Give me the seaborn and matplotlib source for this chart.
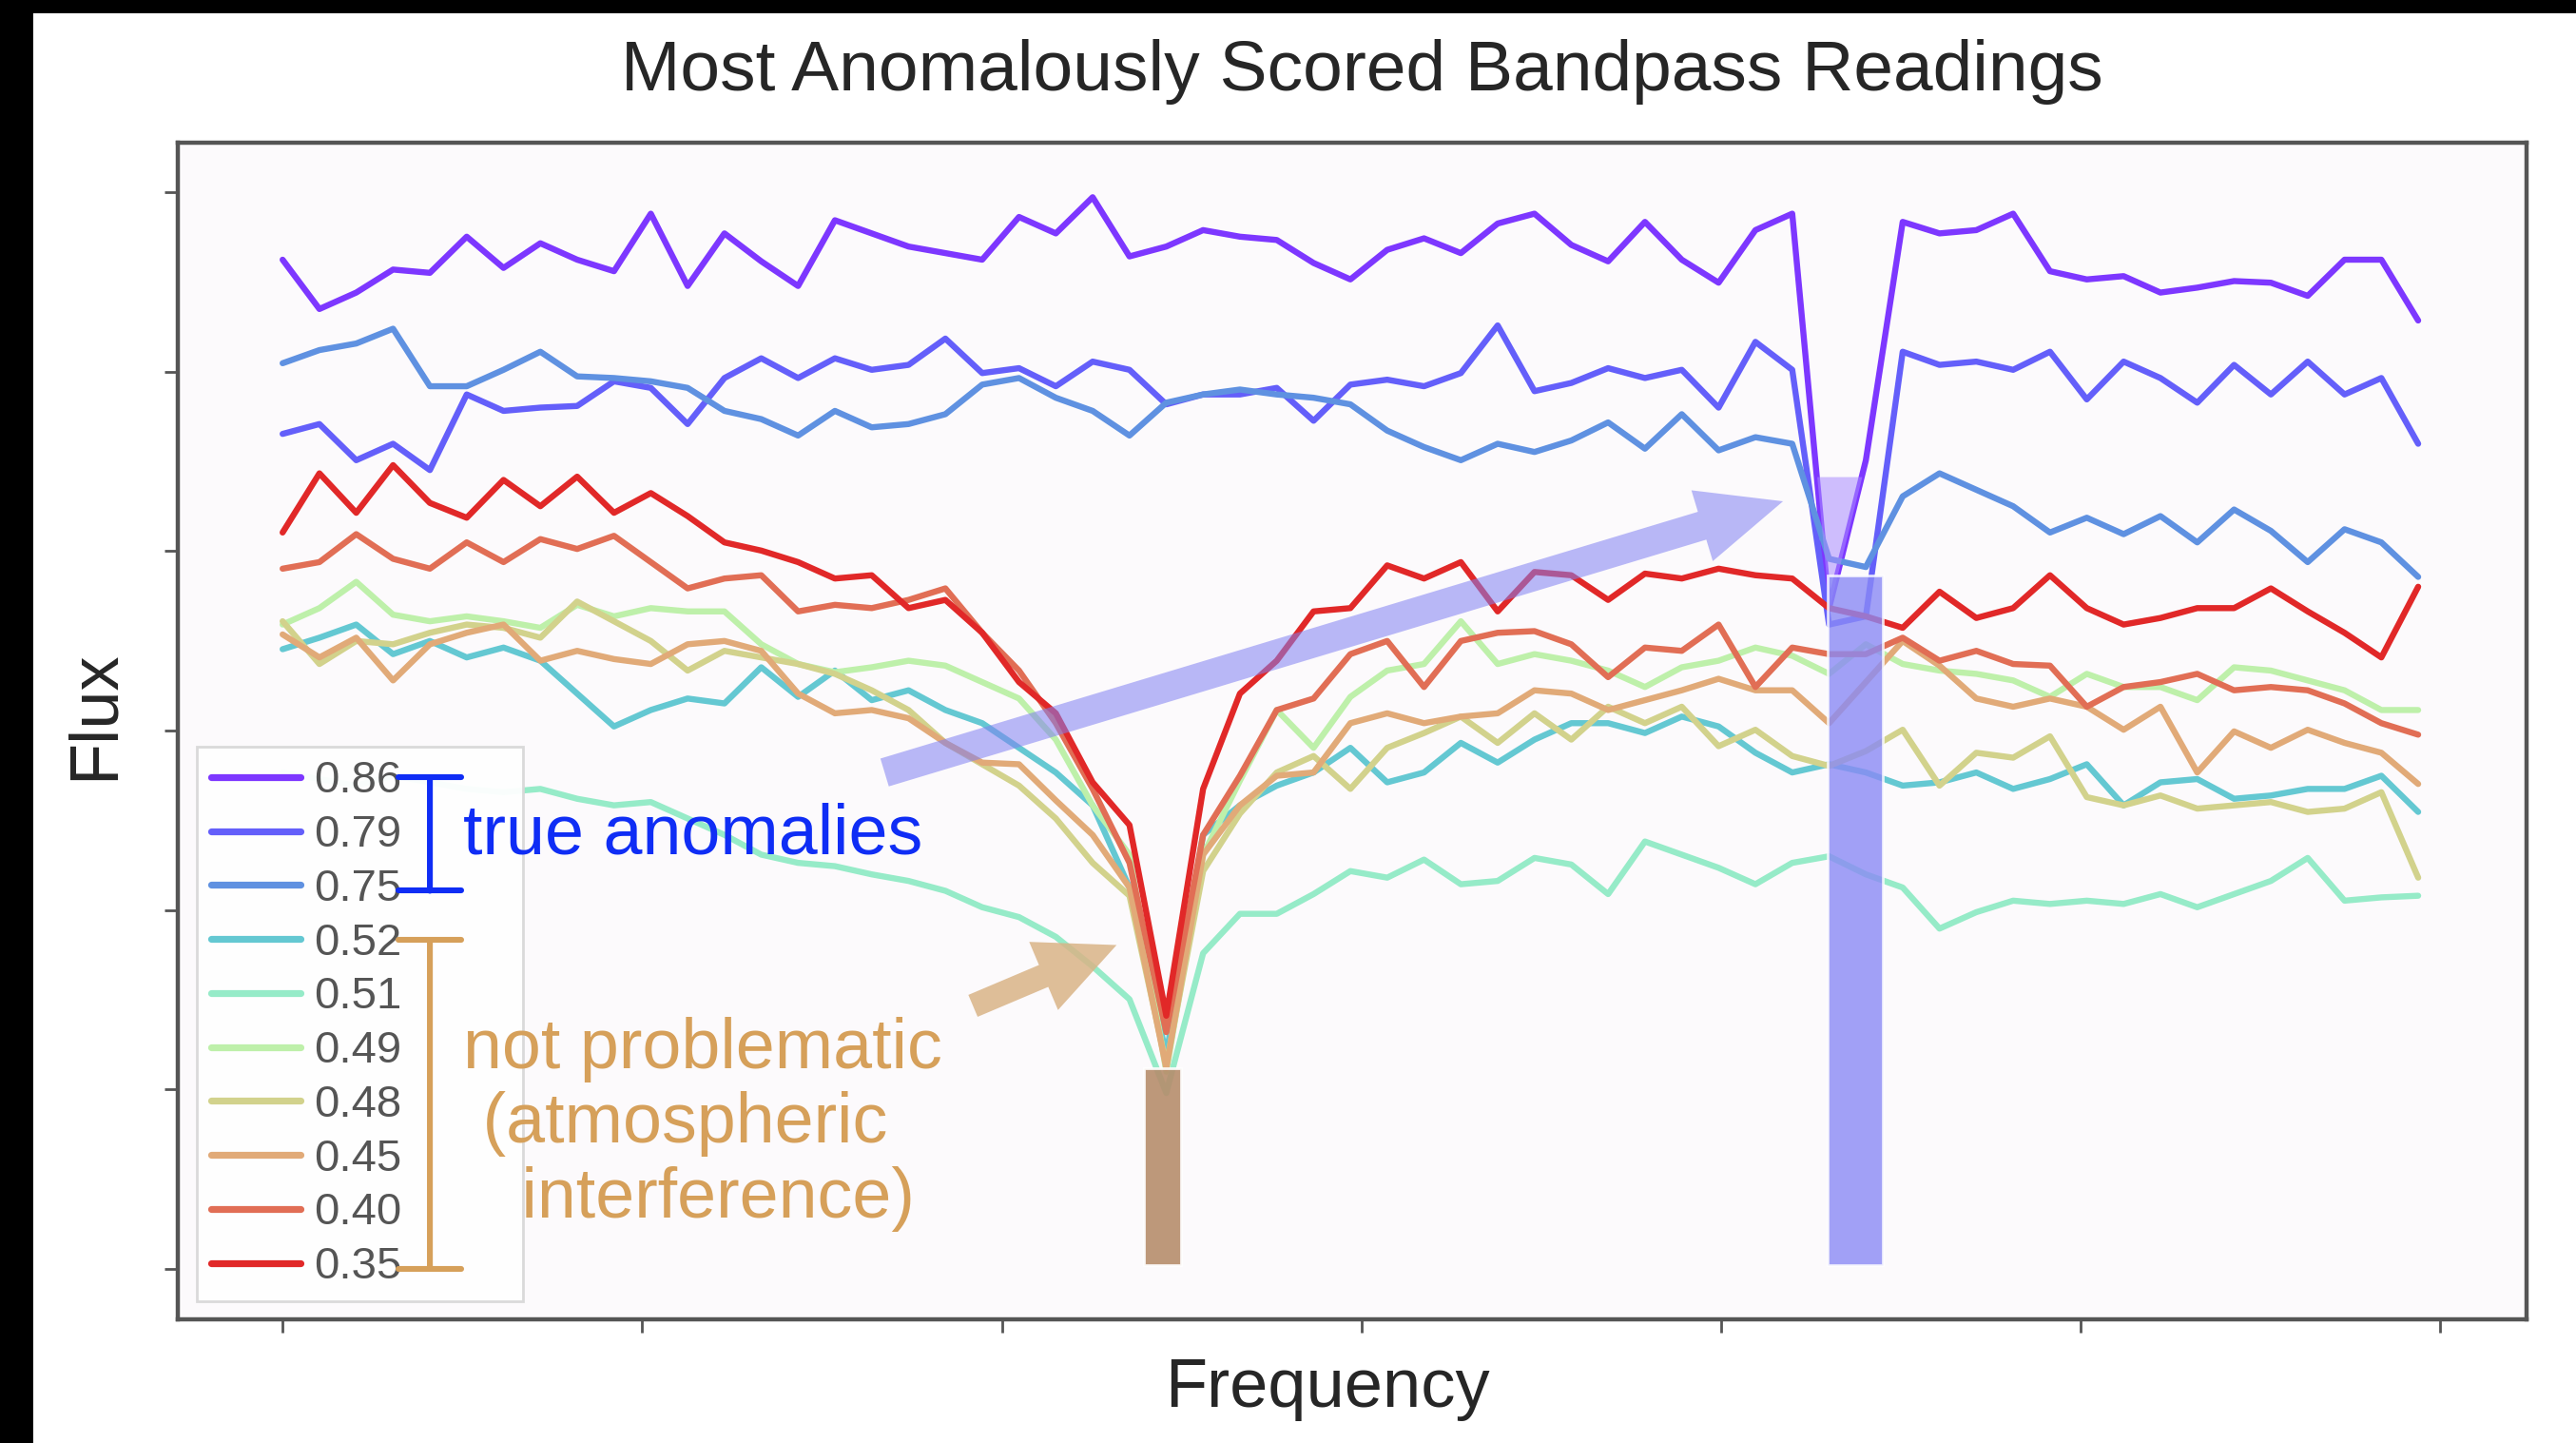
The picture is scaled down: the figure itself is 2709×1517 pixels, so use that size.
import numpy as np
import pandas as pd
import matplotlib.pyplot as plt
from matplotlib.lines import Line2D
from matplotlib.patches import Rectangle
import seaborn as sns

# ============================================================================
# DATA (flux in arbitrary units)
# ============================================================================

freq = np.arange(0, 118, 2)

scores = ['0.86', '0.79', '0.75', '0.52', '0.51', '0.49', '0.48', '0.45', '0.40', '0.35']
colors = ['#7d37ff', '#645ffa', '#5f91e1', '#64c8d2', '#96ebc8',
          '#bef0aa', '#d2d28c', '#e1aa78', '#e16e55', '#e12828']

flux_086 = [612, 582, 592, 606, 604, 626, 607, 622, 612, 605,
            640, 596, 628, 611, 596, 636, 628, 620, 616, 612,
            638, 628, 650, 614, 620, 630, 626, 624, 610, 600,
            618, 625, 616, 634, 640, 621, 611, 635, 612, 598,
            630, 640, 400, 490, 635, 628, 630, 640, 605, 600,
            602, 592, 595, 599, 598, 590, 612, 612, 575]
flux_079 = [506, 512, 490, 500, 484, 530, 520, 522, 523, 538,
            534, 512, 540, 552, 540, 552, 545, 548, 564, 543,
            546, 535, 550, 545, 524, 530, 530, 534, 514, 536,
            539, 535, 543, 572, 532, 537, 546, 540, 545, 522,
            562, 545, 390, 395, 556, 548, 550, 545, 556, 527,
            550, 540, 525, 548, 530, 550, 530, 540, 500]
flux_075 = [549, 557, 561, 570, 535, 535, 545, 556, 541, 540,
            538, 534, 520, 515, 505, 520, 510, 512, 518, 536,
            540, 528, 520, 505, 525, 530, 533, 530, 528, 524,
            508, 498, 490, 500, 495, 502, 513, 497, 518, 496,
            504, 500, 430, 425, 468, 482, 472, 462, 446, 455,
            445, 456, 440, 460, 447, 428, 448, 440, 419]
flux_052 = [375, 382, 390, 372, 380, 370, 376, 368, 348, 328,
            338, 345, 342, 364, 346, 362, 344, 350, 338, 330,
            315, 300, 280, 230, 128, 262, 280, 292, 300, 315,
            294, 300, 318, 306, 320, 330, 330, 324, 334, 328,
            312, 300, 305, 300, 292, 294, 300, 290, 296, 305,
            280, 294, 296, 284, 286, 290, 290, 298, 276]
flux_051 = [300, 296, 292, 298, 294, 290, 288, 290, 284, 280,
            282, 272, 262, 250, 245, 243, 238, 234, 228, 218,
            212, 200, 182, 162, 105, 190, 214, 214, 226, 240,
            236, 247, 232, 234, 248, 244, 226, 258, 250, 242,
            232, 245, 249, 238, 230, 205, 215, 222, 220, 222,
            220, 226, 218, 226, 234, 248, 222, 224, 225]
flux_049 = [390, 400, 416, 396, 392, 395, 392, 388, 402, 395,
            400, 398, 398, 378, 366, 361, 364, 368, 365, 355,
            345, 320, 280, 250, 118, 250, 295, 338, 315, 346,
            362, 366, 392, 366, 372, 368, 362, 352, 364, 368,
            376, 371, 360, 378, 366, 362, 360, 356, 346, 360,
            352, 352, 344, 364, 362, 356, 350, 338, 338]
flux_048 = [392, 366, 380, 378, 385, 390, 388, 382, 404, 392,
            380, 362, 374, 370, 366, 360, 350, 338, 318, 305,
            292, 272, 245, 225, 122, 240, 275, 300, 310, 290,
            315, 324, 334, 318, 336, 320, 340, 330, 340, 316,
            326, 310, 304, 313, 326, 292, 312, 309, 322, 285,
            280, 286, 278, 280, 282, 276, 278, 288, 236]
flux_045 = [384, 370, 382, 356, 378, 385, 390, 368, 374, 369,
            366, 378, 380, 374, 348, 336, 338, 333, 318, 306,
            305, 283, 262, 230, 120, 250, 280, 298, 300, 330,
            336, 330, 334, 336, 350, 348, 338, 344, 350, 357,
            350, 350, 330, 355, 380, 365, 345, 340, 345, 340,
            326, 340, 300, 325, 315, 326, 318, 312, 293]
flux_040 = [424, 428, 445, 430, 424, 440, 428, 442, 436, 444,
            428, 412, 418, 420, 398, 402, 400, 405, 412, 385,
            362, 330, 290, 245, 142, 262, 298, 338, 345, 372,
            380, 352, 380, 385, 386, 378, 358, 376, 374, 390,
            352, 376, 372, 372, 382, 368, 374, 366, 365, 340,
            352, 355, 360, 350, 352, 350, 342, 330, 323]
flux_035 = [446, 482, 458, 487, 464, 455, 478, 462, 480, 458,
            470, 456, 440, 435, 428, 418, 420, 400, 405, 385,
            355, 336, 294, 268, 152, 290, 348, 368, 398, 400,
            426, 418, 428, 398, 422, 420, 405, 421, 418, 424,
            420, 418, 400, 395, 388, 410, 394, 400, 420, 400,
            390, 394, 400, 400, 412, 398, 385, 370, 413]

series = [flux_086, flux_079, flux_075, flux_052, flux_051,
          flux_049, flux_048, flux_045, flux_040, flux_035]

# highlighted regions: atmospheric dip and the true anomaly
atmos_band = (46.8, 48.8)
atmos_top = 120
anomaly_band = (83.9, 86.9)
anomaly_top = 420

# long-form table for seaborn
df = pd.concat([pd.DataFrame({'freq': freq, 'flux': vals, 'score': s})
                for s, vals in zip(scores, series)], ignore_index=True)

# ============================================================================
# PLOT
# ============================================================================

sns.set_style("white")
plt.rcParams['font.family'] = ['Liberation Sans', 'DejaVu Sans']

fig = plt.figure(figsize=(13.545, 7.585), dpi=200)
ax = fig.add_axes([0.0689, 0.0854, 0.912, 0.8155])
ax.set_facecolor('#fcfafc')

sns.lineplot(data=df, x='freq', y='flux', hue='score', hue_order=scores,
             palette=dict(zip(scores, colors)), linewidth=2.3,
             legend=False, sort=False, ax=ax)

# shaded dip regions
ax.bar((atmos_band[0] + atmos_band[1]) / 2, atmos_top,
       width=atmos_band[1] - atmos_band[0], color='#b68d6c', alpha=0.9, zorder=3)
ax.bar((anomaly_band[0] + anomaly_band[1]) / 2, anomaly_top,
       width=anomaly_band[1] - anomaly_band[0], color='#8a8af5', alpha=0.8, zorder=3)
purple = np.array(flux_086)
ax.fill_between(freq, purple, 480, where=purple < 480, interpolate=True,
                color='#a98bff', alpha=0.55, lw=0, zorder=2.5)

# arrows
ax.annotate('', xy=(81.5, 465), xytext=(32.7, 300),
            arrowprops=dict(arrowstyle='simple,head_length=3.2,head_width=2.8,tail_width=1.1',
                            mutation_scale=10, color='#8080f2', alpha=0.55, lw=0,
                            shrinkA=0, shrinkB=0), zorder=4)
ax.annotate('', xy=(45.3, 195), xytext=(37.5, 158),
            arrowprops=dict(arrowstyle='simple,head_length=3.0,head_width=2.8,tail_width=0.9',
                            mutation_scale=10, color='#d9b487', alpha=0.85, lw=0,
                            shrinkA=0, shrinkB=0), zorder=4)

# legend
handles = [Line2D([0], [0], color=c, lw=2.6) for c in colors]
leg = ax.legend(handles, scores, loc='lower left', mode='expand',
                bbox_to_anchor=(0.0084, 0.0154, 0.1385, 0.47), borderaxespad=0,
                fontsize=17, handlelength=2.0, handletextpad=0.3,
                labelspacing=0.27, borderpad=0.3, fancybox=False,
                edgecolor='#d8d8d8', facecolor='white', framealpha=0.95)
for t in leg.get_texts():
    t.set_color('#555555')
leg.set_zorder(5)

# group brackets and notes
blue = '#0f2df5'
tan = '#d6a05a'
ax.annotate('', xy=(8.0, 228), xytext=(8.0, 297),
            arrowprops=dict(arrowstyle='|-|,widthA=1.2,widthB=1.2', mutation_scale=10,
                            color=blue, lw=2.2, shrinkA=0, shrinkB=0), zorder=7)
ax.annotate('', xy=(8.0, -2), xytext=(8.0, 198),
            arrowprops=dict(arrowstyle='|-|,widthA=1.2,widthB=1.2', mutation_scale=10,
                            color=tan, lw=2.2, shrinkA=0, shrinkB=0), zorder=7)
ax.text(9.8, 262, 'true anomalies', color=blue, fontsize=26.5,
        ha='left', va='center', zorder=7)
ax.text(9.8, 86, 'not problematic\n (atmospheric\n   interference)', color=tan,
        fontsize=26.5, ha='left', va='center', linespacing=1.17, zorder=7)

# axes styling
ax.set_xlim(-5.71, 121.9)
ax.set_ylim(-33, 683)
ax.set_xticks(np.linspace(0, 117.2, 7))
ax.set_yticks(np.linspace(-2, 653, 7))
ax.set_xticklabels([])
ax.set_yticklabels([])
ax.tick_params(axis='both', direction='out', length=5, width=1.0, color='#555555',
               left=True, bottom=True)
for sp in ax.spines.values():
    sp.set_color('#555555')
    sp.set_linewidth(1.6)

ax.set_xlabel('Frequency', fontsize=26)
ax.xaxis.set_label_coords(0.4895, -0.059)
ax.xaxis.label.set_verticalalignment('center')
ax.set_ylabel('Flux', fontsize=26)
ax.yaxis.set_label_coords(-0.035, 0.514)
ax.yaxis.label.set_verticalalignment('center')

fig.text(0.5287, 0.95, 'Most Anomalously Scored Bandpass Readings',
         ha='center', va='center', fontsize=27)

# dark screenshot border on the left and top
fig.patches.append(Rectangle((0, 0), 0.0122, 1, transform=fig.transFigure,
                             color='black', zorder=10))
fig.patches.append(Rectangle((0, 0.9921), 1, 0.0079, transform=fig.transFigure,
                             color='black', zorder=10))

plt.savefig('out.png', dpi=200)
